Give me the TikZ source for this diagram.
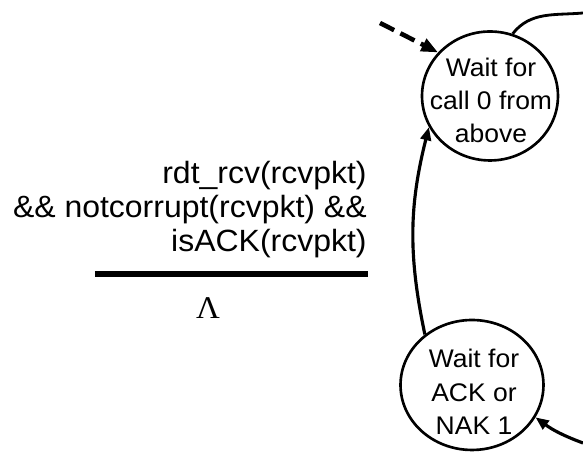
\documentclass[tikz,border=0pt]{standalone}
\usepackage{fontspec}
\setmainfont{Liberation Sans}[FakeStretch=1.04]
\newfontfamily\lambdafont{Liberation Serif}[FakeStretch=1.04]
\usetikzlibrary{shapes.geometric,arrows.meta}

\begin{document}
\begin{tikzpicture}[x=0.02cm, y=0.02cm, >={Triangle[length=7.5pt,width=6pt]},
  every node/.style={font=\fontsize{14.5}{19}\selectfont},
  state/.style={draw, ellipse, line width=1.5pt, inner sep=0pt},
  stext/.style={align=center, inner sep=0pt},
  trans/.style={line width=1.8pt, ->}]
\useasboundingbox (0,0) rectangle (583,469);

% ---------- the two states ----------
\node[state, minimum width=2.72cm, minimum height=2.58cm] (w0) at (490,373) {};
\node[stext] (w0txt) at (491,368.5) {Wait for\\call 0 from\\above};
\node[state, minimum width=2.86cm, minimum height=2.6cm] (wk) at (472,84) {};
\node[stext] (wktxt) at (474,77) {Wait for\\ACK or\\NAK 1};

% ---------- transition label: guard over action ----------
\node[anchor=north east, inner sep=0pt, align=right, font=\fontsize{17.5}{19.6}\selectfont] (guard) at (367,308.5)
  {rdt\_rcv(rcvpkt)\\\&\& notcorrupt(rcvpkt) \&\&\\isACK(rcvpkt)};
\draw[line width=3pt] (95,195) -- (368,195);
\node[font=\lambdafont\fontsize{18}{18}\selectfont] (act) at (208,161) {Λ};

% ---------- transitions ----------
\coordinate (init) at (380,446);
\coordinate (outR) at (583,456);
\coordinate (inR) at (583,26);
\draw[line width=2.6pt, dash pattern=on 9pt off 4pt, -{Triangle[length=9.5pt,width=7.5pt]}] (init) -- (w0.140);
\draw[trans] (wk.133) to[bend left=13] (w0.207);
\draw[line width=1.6pt] (w0.70) to[out=52, in=185] (outR);
\draw[trans] (inR) to[bend left=8] (wk.-27);
\end{tikzpicture}
\end{document}
